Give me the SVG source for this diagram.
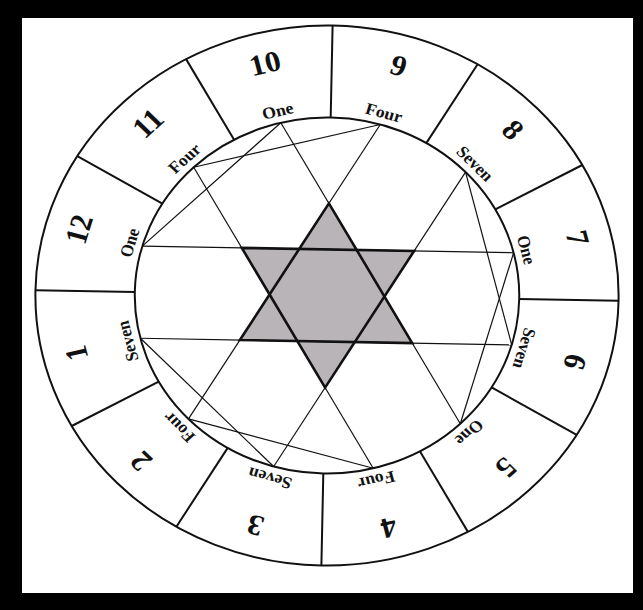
<svg xmlns="http://www.w3.org/2000/svg" width="643" height="610" viewBox="0 0 643 610">
<style>
.ln{fill:none;stroke:#111;vector-effect:non-scaling-stroke}
.ring{stroke-width:2}
.div{stroke-width:2}
.chord{stroke-width:1.2}
.tri{fill:none;stroke:#111;stroke-width:2.6;stroke-linejoin:miter;vector-effect:non-scaling-stroke}
.num{font-family:"Liberation Serif","Times New Roman",serif;font-weight:bold;font-size:29px;fill:#111;text-anchor:middle;dominant-baseline:central}
.lab{font-family:"Liberation Serif","Times New Roman",serif;font-weight:bold;font-size:16.5px;fill:#111;text-anchor:middle;dominant-baseline:central}
</style>
<rect x="0" y="0" width="643" height="610" fill="#000"/>
<rect x="22" y="18" width="611" height="575" fill="#fff"/>
<g transform="translate(327,295.5) scale(1.08,1) rotate(1.1)">
  <g id="hexagram">
    <polygon points="0,-92.14 26.6,-46.07 79.8,-46.07 53.2,0 79.8,46.07 26.6,46.07 0,92.14 -26.6,46.07 -79.8,46.07 -53.2,0 -79.8,-46.07 -26.6,-46.07" fill="#b8b4b8" stroke="none"/>
  </g>
  <g id="rings">
    <circle class="ln ring" cx="0" cy="0" r="270"/>
    <circle class="ln ring" cx="0" cy="0" r="178"/>
  </g>
  <g id="dividers">
    <line class="ln div" x1="178" y1="0" x2="270" y2="0"/>
    <line class="ln div" x1="154.15" y1="-89" x2="233.83" y2="-135"/>
    <line class="ln div" x1="89" y1="-154.15" x2="135" y2="-233.83"/>
    <line class="ln div" x1="0" y1="-178" x2="0" y2="-270"/>
    <line class="ln div" x1="-89" y1="-154.15" x2="-135" y2="-233.83"/>
    <line class="ln div" x1="-154.15" y1="-89" x2="-233.83" y2="-135"/>
    <line class="ln div" x1="-178" y1="0" x2="-270" y2="0"/>
    <line class="ln div" x1="-154.15" y1="89" x2="-233.83" y2="135"/>
    <line class="ln div" x1="-89" y1="154.15" x2="-135" y2="233.83"/>
    <line class="ln div" x1="0" y1="178" x2="0" y2="270"/>
    <line class="ln div" x1="89" y1="154.15" x2="135" y2="233.83"/>
    <line class="ln div" x1="154.15" y1="89" x2="233.83" y2="135"/>
  </g>
  <g id="connectors">
    <line class="ln chord" x1="46.07" y1="-171.94" x2="-125.87" y2="125.87"/>
    <line class="ln chord" x1="-46.07" y1="-171.94" x2="125.87" y2="125.87"/>
    <line class="ln chord" x1="-171.94" y1="46.07" x2="171.94" y2="46.07"/>
    <line class="ln chord" x1="-171.94" y1="-46.07" x2="171.94" y2="-46.07"/>
    <line class="ln chord" x1="-125.87" y1="-125.87" x2="46.07" y2="171.94"/>
    <line class="ln chord" x1="125.87" y1="-125.87" x2="-46.07" y2="171.94"/>
    <line class="ln chord" x1="-46.07" y1="-171.94" x2="-171.94" y2="-46.07"/>
    <line class="ln chord" x1="46.07" y1="-171.94" x2="-125.87" y2="-125.87"/>
    <line class="ln chord" x1="125.87" y1="-125.87" x2="171.94" y2="46.07"/>
    <line class="ln chord" x1="171.94" y1="-46.07" x2="125.87" y2="125.87"/>
    <line class="ln chord" x1="-171.94" y1="46.07" x2="-46.07" y2="171.94"/>
    <line class="ln chord" x1="-125.87" y1="125.87" x2="46.07" y2="171.94"/>
    <polygon class="tri" points="0,-92.14 -79.8,46.07 79.8,46.07"/>
    <polygon class="tri" points="0,92.14 79.8,-46.07 -79.8,-46.07"/>
  </g>
  <g id="house-1"><text class="num" transform="translate(-230.86,61.86) rotate(-105)">1</text><text class="lab" transform="translate(-183.53,49.18) rotate(-105)">Seven</text></g>
  <g id="house-2"><text class="num" transform="translate(-169,169) rotate(-135)">2</text><text class="lab" transform="translate(-134.35,134.35) rotate(-135)">Four</text></g>
  <g id="house-3"><text class="num" transform="translate(-61.86,230.86) rotate(-165)">3</text><text class="lab" transform="translate(-49.18,183.53) rotate(-165)">Seven</text></g>
  <g id="house-4"><text class="num" transform="translate(61.86,230.86) rotate(165)">4</text><text class="lab" transform="translate(49.18,183.53) rotate(165)">Four</text></g>
  <g id="house-5"><text class="num" transform="translate(169,169) rotate(135)">5</text><text class="lab" transform="translate(134.35,134.35) rotate(135)">One</text></g>
  <g id="house-6"><text class="num" transform="translate(230.86,61.86) rotate(105)">6</text><text class="lab" transform="translate(183.53,49.18) rotate(105)">Seven</text></g>
  <g id="house-7"><text class="num" transform="translate(230.86,-61.86) rotate(75)">7</text><text class="lab" transform="translate(183.53,-49.18) rotate(75)">One</text></g>
  <g id="house-8"><text class="num" transform="translate(169,-169) rotate(45)">8</text><text class="lab" transform="translate(134.35,-134.35) rotate(45)">Seven</text></g>
  <g id="house-9"><text class="num" transform="translate(61.86,-230.86) rotate(15)">9</text><text class="lab" transform="translate(49.18,-183.53) rotate(15)">Four</text></g>
  <g id="house-10"><text class="num" transform="translate(-61.86,-230.86) rotate(-15)">10</text><text class="lab" transform="translate(-49.18,-183.53) rotate(-15)">One</text></g>
  <g id="house-11"><text class="num" transform="translate(-169,-169) rotate(-45)">11</text><text class="lab" transform="translate(-134.35,-134.35) rotate(-45)">Four</text></g>
  <g id="house-12"><text class="num" transform="translate(-230.86,-61.86) rotate(-75)">12</text><text class="lab" transform="translate(-183.53,-49.18) rotate(-75)">One</text></g>
</g>
</svg>
